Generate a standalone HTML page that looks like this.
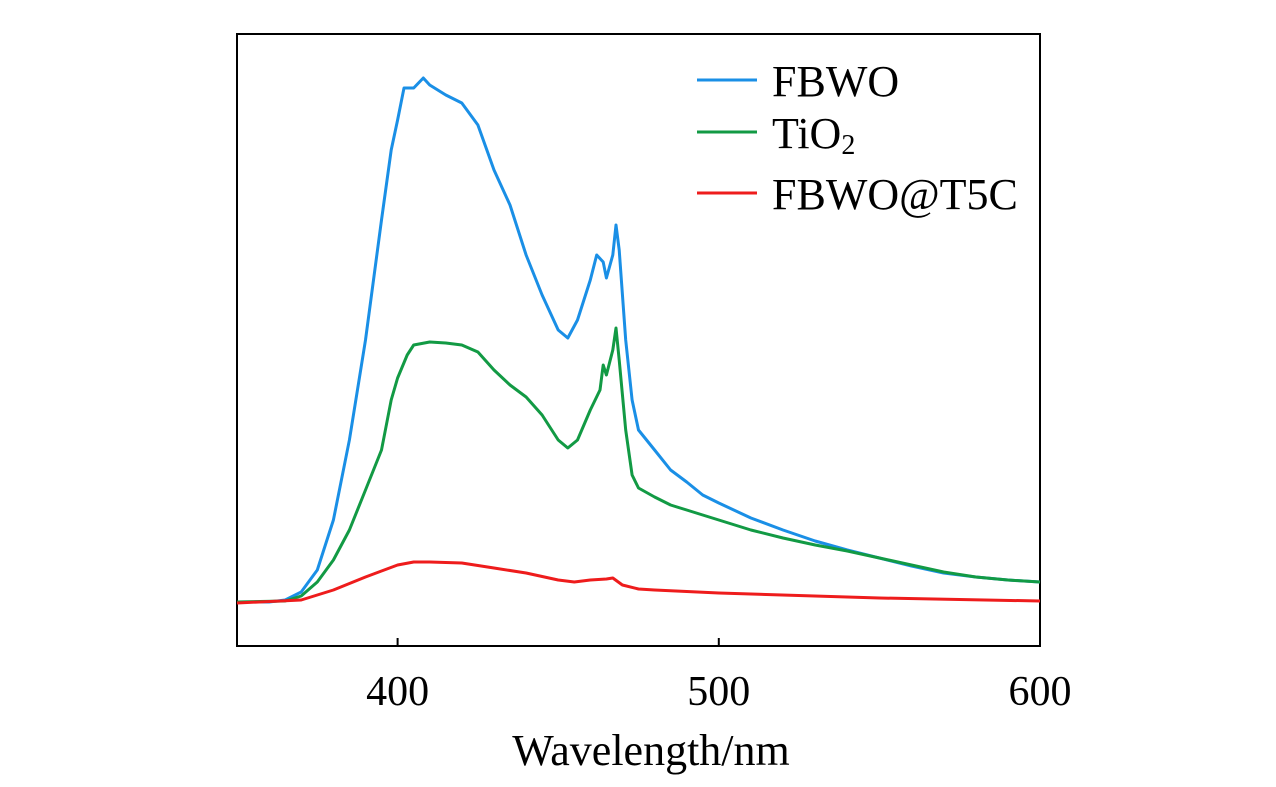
<!DOCTYPE html>
<html><head><meta charset="utf-8"><style>
html,body{margin:0;padding:0;background:#fff;}
svg{display:block;font-family:"Liberation Serif",serif;}
</style></head><body>
<svg id="chart" width="1276" height="787" viewBox="0 0 1276 787">
<rect x="237" y="34" width="803" height="612" fill="none" stroke="#000" stroke-width="2"/>
<g id="ticks"></g>
<g id="series"></g>
<text x="651" y="765" font-size="44" text-anchor="middle">Wavelength/nm</text>
<g>
<line x1="697" y1="80" x2="757" y2="80" stroke="#1a8fe6" stroke-width="3"/>
<text x="772" y="96" font-size="44">FBWO</text>
<line x1="697" y1="132" x2="757" y2="132" stroke="#129a44" stroke-width="3"/>
<text x="772" y="148" font-size="44">TiO<tspan font-size="28" dy="6">2</tspan></text>
<line x1="697" y1="193" x2="757" y2="193" stroke="#ee1c1c" stroke-width="3"/>
<text x="772" y="209" font-size="44">FBWO@T5C</text>
</g>
</svg>
<script>
const xTicks=[400,500,600];
const fbwoX=[350,360,365,370,375,380,385,390,395,398,400,402,405,408,410,415,420,425,430,435,440,445,450,453,456,460,462,464,465,467,468,469,471,473,475,480,485,490,495,500,510,520,530,540,550,560,570,580,590,600];
const fbwoY=[44,44,46,54,76,126,206,306,426,496,526,558,558,568,561,551,543,521,476,441,391,351,316,308,326,366,391,384,368,391,421,396,306,246,216,196,176,164,151,143,128,116,105,96,88,80,73,69,66,64];
const tio2X=[350,365,370,375,380,385,390,395,398,400,403,405,410,415,420,425,430,435,440,445,450,453,456,460,463,464,465,467,468,469,471,473,475,480,485,490,495,500,510,520,530,540,550,560,570,580,590,600];
const tio2Y=[44,45,50,64,86,116,156,196,246,268,291,301,304,303,301,294,276,261,249,231,206,198,206,236,256,281,271,296,318,286,216,171,158,149,141,136,131,126,116,108,101,95,88,81,74,69,66,64];
const t5cX=[350,370,380,390,400,405,410,420,430,440,450,455,460,465,467,470,475,480,500,550,600];
const t5cY=[43,46,56,69,81,84,84,83,78,73,66,64,66,67,68,61,57,56,53,48,45];
const ns="http://www.w3.org/2000/svg";
const X=v=>237+(v-350)*(803/250);
const Y=v=>646-v;
const tg=document.getElementById('ticks');
xTicks.forEach(t=>{
 const l=document.createElementNS(ns,'line');
 l.setAttribute('x1',X(t));l.setAttribute('x2',X(t));l.setAttribute('y1',646);l.setAttribute('y2',638);
 l.setAttribute('stroke','#000');l.setAttribute('stroke-width','2');
 
 
 tg.appendChild(l);
 const tx=document.createElementNS(ns,'text');
 tx.setAttribute('x',X(t));tx.setAttribute('y',705);tx.setAttribute('font-size','42');tx.setAttribute('text-anchor','middle');
 tx.textContent=t;
 
 
 tg.appendChild(tx);
});
const sg=document.getElementById('series');
function draw(xs,ys,color,name){
 const p=document.createElementNS(ns,'path');
 p.setAttribute('d',xs.map((x,i)=>(i?'L':'M')+X(x).toFixed(1)+' '+Y(ys[i]).toFixed(1)).join(''));
 p.setAttribute('fill','none');p.setAttribute('stroke',color);p.setAttribute('stroke-width','3');p.setAttribute('stroke-linejoin','round');
 
 
 sg.appendChild(p);
}
draw(fbwoX,fbwoY,'#1a8fe6','series-fbwo');
draw(tio2X,tio2Y,'#129a44','series-tio2');
draw(t5cX,t5cY,'#ee1c1c','series-fbwo-t5c');
</script>
</body></html>
